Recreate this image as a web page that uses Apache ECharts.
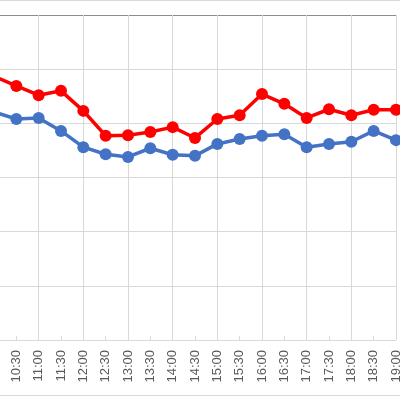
<!DOCTYPE html>
<html>
<head>
<meta charset="utf-8">
<script src="https://cdn.jsdelivr.net/npm/echarts@6/dist/echarts.min.js"></script>
<style>
html,body{margin:0;padding:0;background:#fff;}
#c{width:400px;height:400px;}
</style>
</head>
<body>
<div id="c"></div>
<script>
var categories = ['10:00','10:30','11:00','11:30','12:00','12:30','13:00','13:30','14:00','14:30','15:00','15:30','16:00','16:30','17:00','17:30','18:00','18:30','19:00'];
var redValues = [48.7,46.9,45.2,46.0,42.3,37.7,37.8,38.4,39.3,37.3,40.8,41.5,45.4,43.6,41.0,42.6,41.5,42.5,42.5];
var blueValues = [42.1,40.8,41.0,38.6,35.6,34.3,33.8,35.4,34.2,34.0,36.2,37.1,37.7,38.0,35.6,36.2,36.6,38.6,36.9];
var yMin = 0, yMax = 60, yStep = 10;

var chart = echarts.init(document.getElementById('c'), null, {renderer:'canvas'});
chart.setOption({
  animation: false,
  backgroundColor: '#ffffff',
  grid: {left: -6, right: 4, top: 15, bottom: 60, containLabel: false, outerBoundsMode: 'none'},
  xAxis: {
    type: 'category',
    data: categories,
    boundaryGap: false,
    axisLine: {show: true, lineStyle: {color: '#d9d9d9', width: 1}},
    axisTick: {show: true, inside: true, length: 4, interval: function(i){return i % 2 === 1;}, lineStyle: {color: '#d9d9d9'}},
    splitLine: {show: true, interval: function(i){return i % 2 === 0;}, lineStyle: {color: '#d9d9d9', width: 1}},
    axisLabel: {interval: 0, rotate: 90, margin: 10, color: '#595959', fontSize: 13, fontFamily: 'Liberation Sans'}
  },
  yAxis: {
    type: 'value',
    min: yMin, max: yMax, interval: yStep,
    axisLabel: {show: false},
    axisLine: {show: false},
    axisTick: {show: false},
    splitLine: {show: true, lineStyle: {color: ['#d9d9d9','#d9d9d9','#d9d9d9','#d9d9d9','#d9d9d9','#d9d9d9','#8c8c8c'], width: 1}}
  },
  series: [
    {type: 'line', data: blueValues, symbol: 'circle', symbolSize: 12, showAllSymbol: true,
     lineStyle: {color: '#4472C4', width: 3.5}, itemStyle: {color: '#4472C4'}},
    {type: 'line', data: redValues, symbol: 'circle', symbolSize: 12, showAllSymbol: true,
     lineStyle: {color: '#FF0000', width: 3.5}, itemStyle: {color: '#FF0000'}}
  ],
  graphic: [
    {type: 'line', shape: {x1: 0, y1: 0.5, x2: 400, y2: 0.5}, style: {stroke: '#d9d9d9', lineWidth: 1}},
    {type: 'line', shape: {x1: 0, y1: 395.5, x2: 400, y2: 395.5}, style: {stroke: '#d9d9d9', lineWidth: 1}}
  ]
});
</script>
</body>
</html>
